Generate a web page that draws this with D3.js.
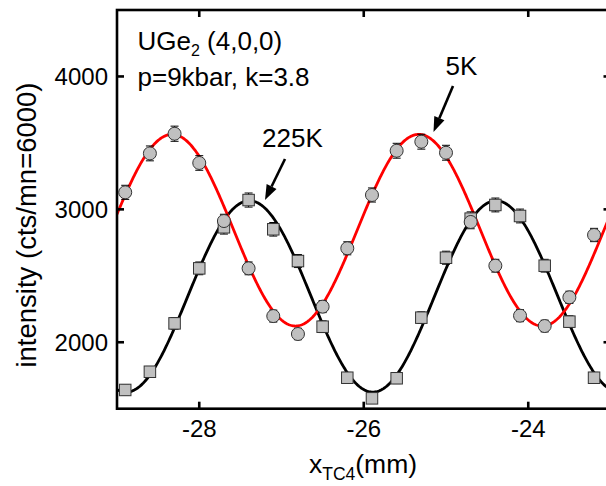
<!DOCTYPE html>
<html>
<head>
<meta charset="utf-8">
<script src="https://cdn.jsdelivr.net/npm/d3@7/dist/d3.min.js"></script>
<style>
  html, body { margin: 0; padding: 0; background: #fff; }
  svg { display: block; }
  text { font-family: "Liberation Sans", Arial, sans-serif; fill: #000; }
</style>
</head>
<body>
<svg id="chart" width="606" height="486"></svg>
<script>
// Scan positions (mm)
const positions = [-28.9, -28.6, -28.3, -28.0, -27.7, -27.4, -27.1, -26.8, -26.5, -26.2,
                   -25.9, -25.6, -25.3, -25.0, -24.7, -24.4, -24.1, -23.8, -23.5, -23.2];

// Intensity at 5 K (circles) and 225 K (squares), counts per monitor 6000
const int5K   = [3128, 3421, 3569, 3349, 2912, 2556, 2197, 2062, 2268, 2707,
                 3108, 3441, 3509, 3426, 2905, 2576, 2200, 2122, 2338, 2807];
const err5K   = [53, 56, 57, 55, 51, 48, 45, 43, 45, 49,
                 53, 56, 56, 56, 51, 48, 45, 44, 46, 50];
const int225K = [1641, 1778, 2142, 2556, 2865, 3070, 2850, 2611, 2117, 1733,
                 1578, 1729, 2185, 2636, 2930, 3033, 2950, 2576, 2155, 1733];
const err225K = [38, 40, 44, 48, 51, 53, 51, 49, 44, 40,
                 38, 40, 44, 49, 51, 52, 52, 48, 44, 40];

// Sinusoidal fits: [offset, amplitude, period (mm), peak position (mm)]
const fit5K   = [2843, 721, 3.0, -25.33];
const fit225K = [2345, 720, 3.0, -27.39];

const xTicks = [-28, -26, -24];
const yTicks = [2000, 3000, 4000];

const svg = d3.select("#chart");
const pL = 117, pR = 610.5, pT = 10, pB = 408.7;

const x = d3.scaleLinear().domain([-29, -23]).range([pL, pR]);
const y = d3.scaleLinear().domain([1500, 4500]).range([pB, pT]);

svg.append("defs").append("clipPath").attr("id", "plotClip")
  .append("rect").attr("x", pL).attr("y", pT)
  .attr("width", pR - pL).attr("height", pB - pT);

// Fitted curves
function fitCurve(p) {
  const pts = d3.range(-29, -22.999, 0.01);
  return pts.map(v => [v, p[0] + p[1] * Math.cos(2 * Math.PI * (v - p[3]) / p[2])]);
}
const line = d3.line().x(d => x(d[0])).y(d => y(d[1]));

const plot = svg.append("g").attr("clip-path", "url(#plotClip)");
plot.append("path").datum(fitCurve(fit225K)).attr("d", line)
  .attr("fill", "none").attr("stroke", "#000").attr("stroke-width", 2.8);
plot.append("path").datum(fitCurve(fit5K)).attr("d", line)
  .attr("fill", "none").attr("stroke", "#ff0000").attr("stroke-width", 2.8);

// Error bars
function errorBars(vals, errs) {
  const g = plot.append("g").attr("stroke", "#000").attr("stroke-width", 1);
  positions.forEach((px, i) => {
    const cx = x(px), y1 = y(vals[i] + errs[i]), y2 = y(vals[i] - errs[i]);
    g.append("line").attr("x1", cx).attr("x2", cx).attr("y1", y1).attr("y2", y2);
    g.append("line").attr("x1", cx - 4).attr("x2", cx + 4).attr("y1", y1).attr("y2", y1);
    g.append("line").attr("x1", cx - 4).attr("x2", cx + 4).attr("y1", y2).attr("y2", y2);
  });
}
errorBars(int225K, err225K);
errorBars(int5K, err5K);

// Markers
const sq = 11.5;
plot.append("g").selectAll("rect").data(positions).join("rect")
  .attr("x", d => x(d) - sq / 2)
  .attr("y", (d, i) => y(int225K[i]) - sq / 2)
  .attr("width", sq).attr("height", sq)
  .attr("fill", "#c0c0c0").attr("stroke", "#333").attr("stroke-width", 1);
plot.append("g").selectAll("circle").data(positions).join("circle")
  .attr("cx", d => x(d))
  .attr("cy", (d, i) => y(int5K[i]))
  .attr("r", 6.5)
  .attr("fill", "#c0c0c0").attr("stroke", "#333").attr("stroke-width", 1);

// Frame and inward ticks
const axisW = 2.6, tickLen = 7;
const frame = svg.append("g").attr("stroke", "#000").attr("stroke-width", axisW).attr("fill", "none");
frame.append("rect").attr("x", pL).attr("y", pT)
  .attr("width", pR - pL).attr("height", pB - pT);
xTicks.forEach(t => {
  frame.append("line").attr("x1", x(t)).attr("x2", x(t)).attr("y1", pB).attr("y2", pB - tickLen);
  frame.append("line").attr("x1", x(t)).attr("x2", x(t)).attr("y1", pT).attr("y2", pT + tickLen);
});
yTicks.forEach(t => {
  frame.append("line").attr("x1", pL).attr("x2", pL + tickLen).attr("y1", y(t)).attr("y2", y(t));
  frame.append("line").attr("x1", pR).attr("x2", pR - tickLen).attr("y1", y(t)).attr("y2", y(t));
});

// Tick labels
svg.append("g").selectAll("text").data(xTicks).join("text")
  .attr("x", d => x(d)).attr("y", 437)
  .attr("text-anchor", "middle").attr("font-size", 24)
  .text(d => String(d));
svg.append("g").selectAll("text").data(yTicks).join("text")
  .attr("x", 108).attr("y", d => y(d) + 8.6)
  .attr("text-anchor", "end").attr("font-size", 24)
  .text(d => d);

// Axis titles
const xt = svg.append("text").attr("x", 363).attr("y", 473)
  .attr("text-anchor", "middle").attr("font-size", 26.5);
xt.append("tspan").text("x");
xt.append("tspan").attr("font-size", 17.5).attr("dy", 7).text("TC4");
xt.append("tspan").attr("dy", -7).text("(mm)");

svg.append("text")
  .attr("transform", "translate(36,225) rotate(-90)")
  .attr("text-anchor", "middle").attr("font-size", 27.5)
  .text("intensity (cts/mn=6000)");

// Sample description
const t1 = svg.append("text").attr("x", 137.5).attr("y", 50).attr("font-size", 26);
t1.append("tspan").text("UGe");
t1.append("tspan").attr("font-size", 16).attr("dy", 6).text("2");
t1.append("tspan").attr("dy", -6).text(" (4,0,0)");
svg.append("text").attr("x", 137.5).attr("y", 86).attr("font-size", 26)
  .text("p=9kbar, k=3.8");

// Temperature labels with arrows
function arrow(x1, y1, x2, y2) {
  const ang = Math.atan2(y2 - y1, x2 - x1);
  const hl = 15, hw = 5.5;
  const bx = x2 - hl * Math.cos(ang), by = y2 - hl * Math.sin(ang);
  svg.append("line").attr("x1", x1).attr("y1", y1).attr("x2", bx).attr("y2", by)
    .attr("stroke", "#000").attr("stroke-width", 2.6);
  const px = -Math.sin(ang) * hw, py = Math.cos(ang) * hw;
  svg.append("path")
    .attr("d", `M${x2},${y2}L${bx + px},${by + py}L${bx - px},${by - py}Z`)
    .attr("fill", "#000");
}
svg.append("text").attr("x", 262).attr("y", 146.7).attr("font-size", 26).text("225K");
arrow(285, 159, 265, 200);
svg.append("text").attr("x", 445.5).attr("y", 75).attr("font-size", 26).text("5K");
arrow(453, 86, 433.5, 132);
</script>
</body>
</html>
